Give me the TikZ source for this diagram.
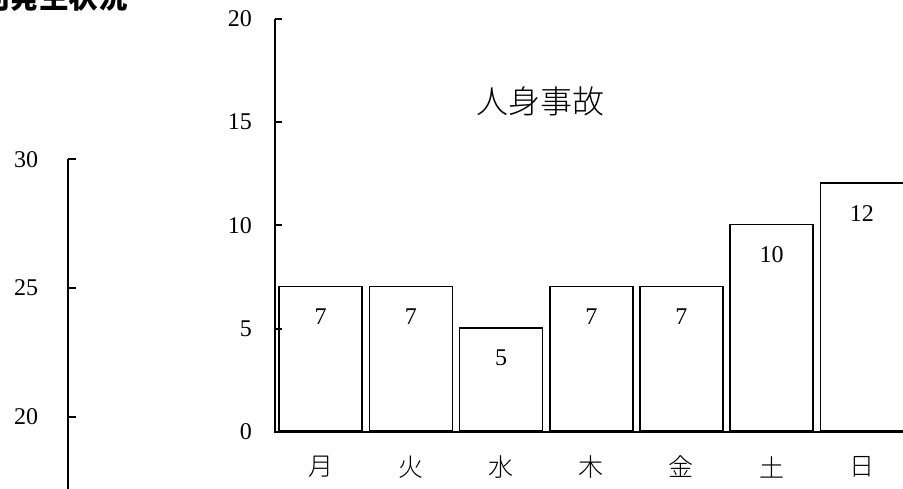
\documentclass[tikz,border=0pt]{standalone}
\usepackage{fontspec}
\setmainfont{Liberation Serif}
\newfontfamily\cjk{Noto Sans CJK JP}
\newfontfamily\cjklight{Noto Sans CJK JP Light}
\usepackage{tikz}

\begin{document}
\begin{tikzpicture}[x=1pt,y=1pt,
  axis/.style={line width=1.9pt},
  bar/.style={draw,line width=1.7pt,inner sep=0pt,minimum width=83pt},
  num/.style={inner sep=0pt,font=\fontsize{24}{24}\selectfont},
  day/.style={inner sep=0pt,font=\cjklight\fontsize{25}{25}\selectfont}]
\useasboundingbox (0,0) rectangle (903,488);
\clip (0,0) rectangle (903,488);
% title, cut by the page edge
\node[anchor=base west,inner sep=0pt,font=\cjk\bfseries\fontsize{29.5}{29.5}\selectfont] (title) at (-20,479) {別発生状況};
% left chart
\begin{scope}[shift={(68.3,71.3)},y=25.74pt]
\draw[axis] (0,10) -- (0,-3);
\foreach \v in {0,5,10}
    \draw[axis] (0,\v) -- (7.5,\v);
\foreach \v/\t in {0/20,5/25,10/30}
    \node[num,anchor=east] (leftlab\t) at (-30,\v) {\t};
\end{scope}
% right chart
\begin{scope}[shift={(275,56)},y=20.67pt]
\draw[axis] (0,20) -- (0,0) -- (630,0);
\foreach \v in {5,10,15,20}
    \draw[axis] (0,\v) -- (7,\v);
\foreach \v in {0,5,10,15,20}
    \node[num,anchor=east] (ylab\v) at (-23,\v) {\v};
\node[font=\cjklight\fontsize{32}{32}\selectfont,inner sep=0pt] (charttitle) at (265,16) {人身事故};
\foreach \d/\v [count=\i] in {月/7,火/7,水/5,木/7,金/7,土/10,日/12} {
    \node[bar,minimum height=\v*20.67pt,anchor=south west] (bar\i) at ({3.3+(\i-1)*90.2},0) {};
    \node[num] (val\i) at ([yshift=-31pt]bar\i.north) {\v};
    \node[day] (day\i) at ([yshift=-35pt]bar\i.south) {\d};
}
\end{scope}
\end{tikzpicture}
\end{document}
